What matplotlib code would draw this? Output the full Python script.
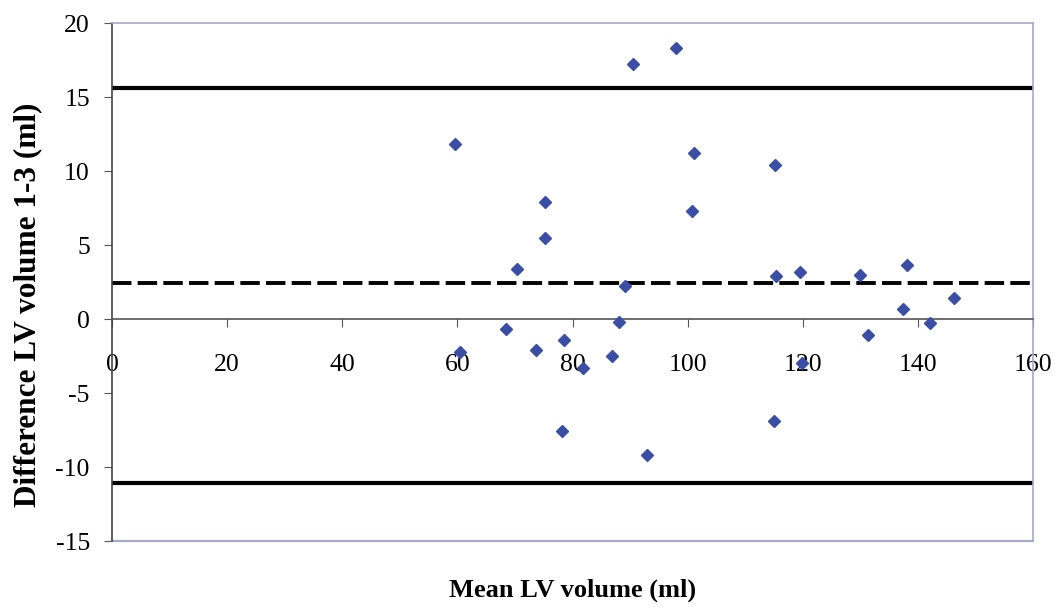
import matplotlib
matplotlib.use('Agg')
import matplotlib.pyplot as plt

# mean of the two measurements vs their difference (ml)
mean_lv = [59.6, 60.5, 68.4, 70.4, 73.6, 75.2, 75.2, 78.1, 78.5, 81.9,
           86.9, 88.1, 89.2, 90.5, 92.9, 98.0, 100.8, 101.1, 115.0, 115.2,
           115.3, 119.6, 119.8, 130.0, 131.4, 137.4, 138.1, 142.1, 146.2]
diff_lv = [11.8, -2.2, -0.7, 3.4, -2.1, 7.9, 5.5, -7.6, -1.4, -3.3,
           -2.5, -0.2, 2.2, 17.2, -9.2, 18.3, 7.3, 11.2, -6.9, 10.4,
           2.9, 3.15, -3.0, 3.0, -1.1, 0.7, 3.65, -0.25, 1.45]

bias = 2.45
upper_loa = 15.6
lower_loa = -11.1

xticks = [0, 20, 40, 60, 80, 100, 120, 140, 160]
yticks = [-15, -10, -5, 0, 5, 10, 15, 20]

plt.rcParams['font.family'] = ['Liberation Serif', 'DejaVu Serif']
plt.rcParams['axes.unicode_minus'] = False

fig = plt.figure(figsize=(10.58, 6.07), dpi=100)
ax = fig.add_axes([0.1059, 0.1087, 0.8705, 0.8534])

frame = '#a8a8c8'
ax.set_xlim(0, 160)
ax.set_ylim(-15, 20)

ax.axhline(upper_loa, color='black', lw=3.0, zorder=2)
ax.axhline(lower_loa, color='black', lw=3.0, zorder=2)
ax.axhline(bias, color='black', lw=2.8, linestyle=(0, (5, 1.6)), zorder=2)

ax.plot(mean_lv, diff_lv, linestyle='none', marker='D', markersize=6.5,
        color='#3a4ea6', zorder=3)

# x axis runs through zero, the frame closes below it
ax.spines['bottom'].set_position(('data', 0))
ax.spines['bottom'].set_color('#555555')
ax.spines['left'].set_color('#444444')
ax.spines['top'].set_color(frame)
ax.spines['right'].set_color(frame)
ax.axhline(-15, color=frame, lw=1.6, clip_on=False)
for s in ax.spines.values():
    s.set_linewidth(1.2)

ax.set_xticks(xticks)
ax.set_yticks(yticks)
ax.tick_params(axis='x', direction='out', length=6, pad=19, labelsize=18.5,
               color='#555555')
ax.tick_params(axis='y', direction='out', length=6, pad=10, labelsize=18.5,
               color='#555555')

ax.set_xlabel('Mean LV volume (ml)', fontsize=19, fontweight='bold')
ax.xaxis.set_label_coords(0.5, -0.072)
ax.set_ylabel('Difference LV volume 1-3 (ml)', fontsize=22.5, fontweight='bold')
ax.yaxis.set_label_coords(-0.076, 0.456)

fig.savefig('out.png', dpi=100, facecolor='white')
